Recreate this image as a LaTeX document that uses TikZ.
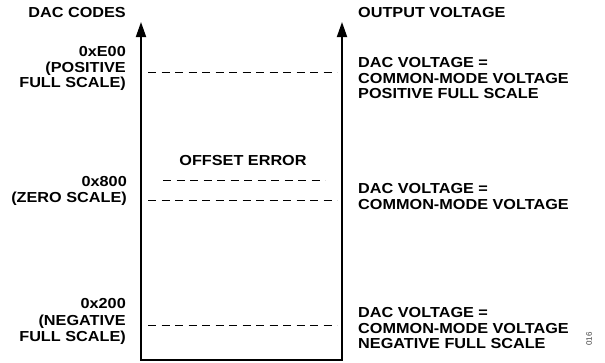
\documentclass[tikz,border=0pt]{standalone}
\usepackage{fontspec}
\newfontfamily\lab[FakeStretch=1.12]{Liberation Sans}
\newfontfamily\idfont{Liberation Sans}
\usetikzlibrary{arrows.meta}
\tikzset{
  lbl/.style={inner sep=0pt, font=\lab\bfseries\fontsize{14.5}{15.5}\selectfont},
  lleft/.style={lbl, anchor=north east, align=right},
  lright/.style={lbl, anchor=north west, align=left},
  axis/.style={line width=1.8pt, {Triangle[length=15pt,width=10pt]}-{Triangle[length=15pt,width=10pt]}},
  lvl/.style={line width=1.2pt, dash pattern=on 8pt off 5.5pt},
}
\begin{document}
\begin{tikzpicture}[x=1pt,y=-1pt]
\useasboundingbox (0,0) rectangle (605,362);
% axes
\coordinate (ltop) at (141,22);
\coordinate (lbot) at (141,360);
\coordinate (rbot) at (342,360);
\coordinate (rtop) at (342,22);
\draw[axis, line join=miter] (ltop) -- (lbot) -- (rbot) -- (rtop);
% dashed levels
\coordinate (p1) at (148,72.5);  \coordinate (p2) at (337,72.5);
\coordinate (o1) at (163,180.5); \coordinate (o2) at (325,180.5);
\coordinate (z1) at (148,200.5); \coordinate (z2) at (337,200.5);
\coordinate (n1) at (148,325.5); \coordinate (n2) at (337,325.5);
\draw[lvl] (p1) -- (p2);
\draw[lvl] (o1) -- (o2);
\draw[lvl] (z1) -- (z2);
\draw[lvl] (n1) -- (n2);
% labels left
\node[lleft] (codes) at (126,7.5) {DAC CODES};
\node[lleft] (pfs) at (126,46.5) {0xE00\\(POSITIVE\\FULL SCALE)};
\node[lleft] (zs) at (127,176.5) {0x800\\(ZERO SCALE)};
\node[lleft] (nfs) at (126,298.5) {0x200\\[1.5pt](NEGATIVE\\FULL SCALE)};
% labels middle
\node[lbl] (oe) at (243,160.5) {OFFSET ERROR};
% labels right
\node[lright] (outv) at (358,7.5) {OUTPUT VOLTAGE};
\node[lright] (vp) at (358,57.5) {DAC VOLTAGE =\\COMMON-MODE VOLTAGE\\POSITIVE FULL SCALE};
\node[lright] (vz) at (358,183.5) {DAC VOLTAGE =\\COMMON-MODE VOLTAGE};
\node[lright] (vn) at (358,307.5) {DAC VOLTAGE =\\COMMON-MODE VOLTAGE\\NEGATIVE FULL SCALE};
% figure id
\node[inner sep=0pt, rotate=90, text=black!75, font=\idfont\fontsize{8}{9}\selectfont] (fid) at (589,339) {016};
\end{tikzpicture}
\end{document}
